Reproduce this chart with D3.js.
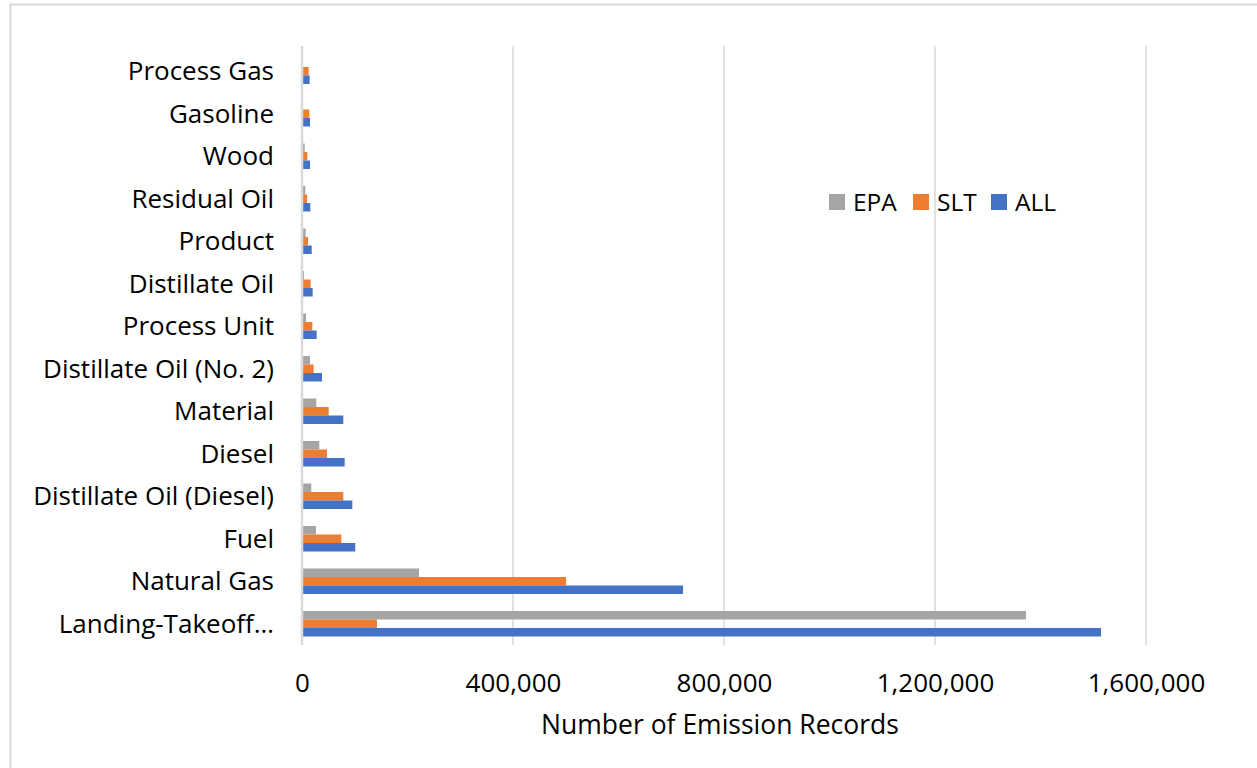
<!DOCTYPE html>
<html>
<head>
<meta charset="utf-8">
<script src="https://cdn.jsdelivr.net/npm/d3@7"></script>
<style>
  html, body { margin: 0; padding: 0; background: #fff; }
  svg { display: block; font-family: "Open Sans", "Liberation Sans", sans-serif; }
</style>
</head>
<body>
<svg id="chart" width="1257" height="768"></svg>
<script>
// Fuel / material categories, top to bottom
const categories = [
  "Process Gas", "Gasoline", "Wood", "Residual Oil", "Product", "Distillate Oil",
  "Process Unit", "Distillate Oil (No. 2)", "Material", "Diesel",
  "Distillate Oil (Diesel)", "Fuel", "Natural Gas", "Landing-Takeoff…"
];
const epaValues = [1000, 1500, 5100, 6300, 7000, 3800, 7600, 15200, 27100, 32800, 17600, 26500, 221800, 1372500];
const sltValues = [12600, 13900, 10100, 9500, 11400, 16400, 19600, 22100, 50600, 47400, 78300, 74500, 500500, 142000];
const allValues = [14500, 15200, 15200, 15800, 18400, 20200, 27800, 37900, 78300, 80900, 95400, 101000, 722300, 1514700];
const seriesNames = ["EPA", "SLT", "ALL"];
const seriesColors = ["#A5A5A5", "#ED7D31", "#4472C4"];
const xTicks = [0, 400000, 800000, 1200000, 1600000];
const xTitle = "Number of Emission Records";

const FONT = "\"Open Sans\", \"Liberation Sans\", sans-serif";
const svg = d3.select("#chart");

// outer chart frame
svg.append("rect")
  .attr("x", 10.5).attr("y", 4.5)
  .attr("width", 1260).attr("height", 780)
  .attr("fill", "none").attr("stroke", "#d9d9d9").attr("stroke-width", 2);

const plot = { left: 302, right: 1146, top: 50, bottom: 645 };

const x = d3.scaleLinear().domain([0, 1600000]).range([plot.left, plot.right]);
const y = d3.scaleBand().domain(categories).range([plot.top, plot.bottom]).paddingInner(0.4).paddingOuter(0.2);
const ySub = d3.scaleBand().domain(seriesNames).range([0, y.bandwidth()]);

// gridlines
svg.append("g").selectAll("line")
  .data(xTicks.slice(1))
  .join("line")
  .attr("x1", d => x(d)).attr("x2", d => x(d))
  .attr("y1", plot.top - 4).attr("y2", plot.bottom)
  .attr("stroke", "#d9d9d9").attr("stroke-width", 1.5);

// bars
const rows = categories.map((c, i) => ({
  cat: c,
  vals: [epaValues[i], sltValues[i], allValues[i]]
}));
const groups = svg.append("g").selectAll("g")
  .data(rows)
  .join("g")
  .attr("transform", d => `translate(0,${y(d.cat)})`);
groups.selectAll("rect")
  .data(d => d.vals.map((v, k) => ({ v, k })))
  .join("rect")
  .attr("x", x(0) + 1)
  .attr("y", d => ySub(seriesNames[d.k]))
  .attr("width", d => Math.max(0, x(d.v) - x(0) - 1))
  .attr("height", ySub.bandwidth())
  .attr("fill", d => seriesColors[d.k]);

// vertical category axis line
svg.append("line")
  .attr("x1", plot.left).attr("x2", plot.left)
  .attr("y1", plot.top - 4).attr("y2", plot.bottom)
  .attr("stroke", "#d9d9d9").attr("stroke-width", 2.5);

// category labels
const yAxis = d3.axisLeft(y).tickSize(0).tickPadding(28);
const yg = svg.append("g").attr("transform", `translate(${plot.left},0)`).call(yAxis);
yg.select(".domain").remove();
yg.selectAll("text")
  .attr("font-size", 26).attr("fill", "#000")
  .attr("font-family", FONT)
  .attr("dy", "0.35em");

// value axis labels
const xAxis = d3.axisBottom(x).tickValues(xTicks).tickSize(0).tickPadding(29)
  .tickFormat(d3.format(","));
const xg = svg.append("g").attr("transform", `translate(0,${plot.bottom})`).call(xAxis);
xg.select(".domain").remove();
xg.selectAll("text")
  .attr("font-size", 26).attr("fill", "#000")
  .attr("font-family", FONT);

// axis title
svg.append("text")
  .attr("x", 720).attr("y", 734)
  .attr("text-anchor", "middle")
  .attr("font-size", 26.5).attr("fill", "#000")
  .attr("font-family", FONT)
  .text(xTitle);

// legend
const legendX = [829, 913, 991];
const legend = svg.append("g").selectAll("g")
  .data(seriesNames)
  .join("g")
  .attr("transform", (d, i) => `translate(${legendX[i]},194)`);
legend.append("rect")
  .attr("width", 16).attr("height", 16)
  .attr("fill", (d, i) => seriesColors[i]);
legend.append("text")
  .attr("x", 24).attr("y", 8.5).attr("dy", "0.35em")
  .attr("font-size", 24.5).attr("fill", "#000")
  .attr("font-family", FONT)
  .text(d => d);
</script>
</body>
</html>
